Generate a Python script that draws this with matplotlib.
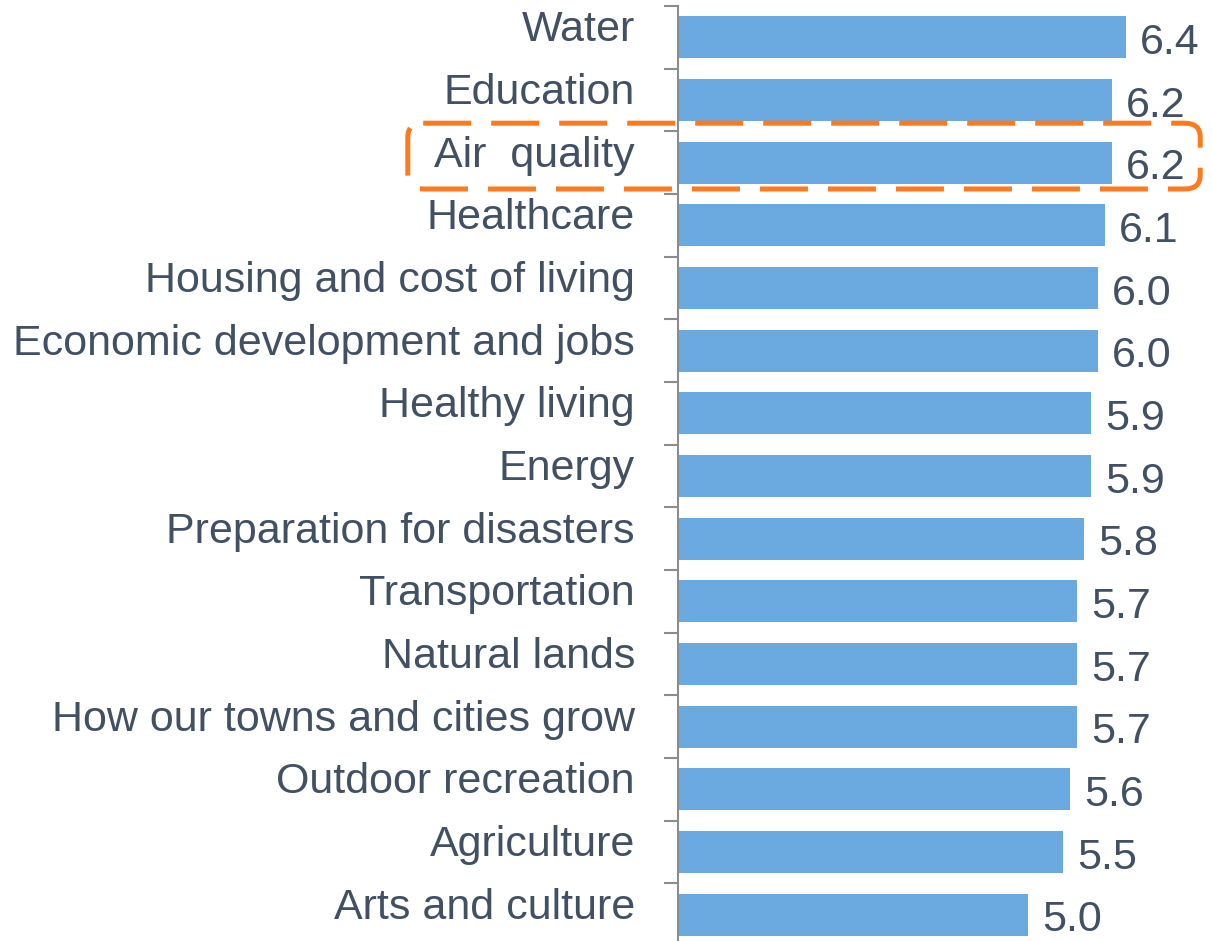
import matplotlib
matplotlib.use("Agg")
import matplotlib.pyplot as plt
from matplotlib.patches import FancyBboxPatch

plt.rcParams['font.family'] = ['Liberation Sans', 'DejaVu Sans']

# data
categories = ["Water", "Education", "Air  quality", "Healthcare",
              "Housing and cost of living", "Economic development and jobs",
              "Healthy living", "Energy", "Preparation for disasters",
              "Transportation", "Natural lands", "How our towns and cities grow",
              "Outdoor recreation", "Agriculture", "Arts and culture"]
scores = [6.4, 6.2, 6.2, 6.1, 6.0, 6.0, 5.9, 5.9, 5.8, 5.7, 5.7, 5.7, 5.6, 5.5, 5.0]
highlight = "Air  quality"

text_color = "#415163"
bar_color = "#6AAAE0"
axis_color = "#8C8C8C"
box_color = "#FF7A1C"

fig = plt.figure(figsize=(12.12, 9.41), dpi=100)
ax = fig.add_axes([678 / 1212, -5 / 941, 525 / 1212, 940 / 941])

pos = list(range(len(categories)))
ax.barh(pos, scores, height=0.67, color=bar_color)

ax.set_xlim(0, 7.5)
ax.set_ylim(len(categories) - 0.5, -0.5)

for s in ["top", "right", "bottom"]:
    ax.spines[s].set_visible(False)
ax.spines["left"].set_color(axis_color)
ax.spines["left"].set_linewidth(1.5)
ax.set_xticks([])
ax.set_yticks([])
ax.set_yticks([p - 0.5 for p in pos] + [len(categories) - 0.5], minor=True)
ax.tick_params(axis="y", which="minor", length=10, width=1.5, color=axis_color,
               direction="out", labelleft=False)

# category labels
for p, c in zip(pos, categories):
    ax.annotate(c, xy=(0, p), xycoords=("axes fraction", "data"),
                xytext=(-31, 5), textcoords="offset points",
                ha="right", va="center", fontsize=31, color=text_color,
                annotation_clip=False)

# value labels
for p, v in zip(pos, scores):
    ax.annotate(f"{v:.1f}", xy=(v, p), xytext=(10, -4), textcoords="offset points",
                ha="left", va="center", fontsize=31, color=text_color,
                annotation_clip=False)

# dashed highlight box
hi = categories.index(highlight)
box = FancyBboxPatch((-3.86, hi - 0.63), 11.32, 1.05,
                     boxstyle="round,pad=0,rounding_size=0.22",
                     fill=False, edgecolor=box_color, linewidth=3.6,
                     linestyle=(0, (9.6, 4)), clip_on=False, zorder=5)
ax.add_patch(box)

plt.savefig("out.png", dpi=100)
